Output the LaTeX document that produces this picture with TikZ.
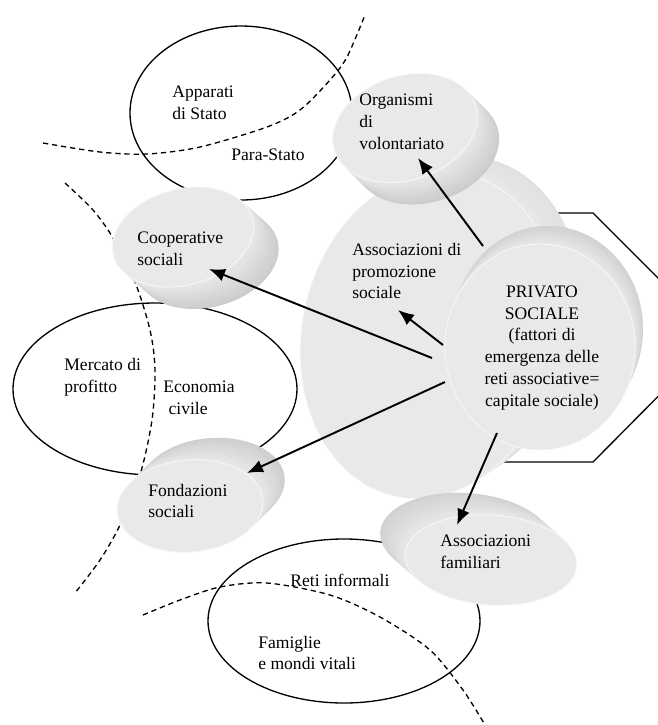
\documentclass[tikz,border=0pt]{standalone}
\usepackage{fontspec}
\setmainfont{Liberation Serif}
\usetikzlibrary{arrows.meta}
\tikzstyle{lbl}=[inner sep=0pt, align=left, anchor=west,
  font=\fontsize{10}{12.5}\selectfont]
\tikzstyle{zone}=[draw=black, line width=0.75pt]
\tikzstyle{divide}=[draw=black, line width=0.75pt, dash pattern=on 3pt off 2.2pt]
\tikzstyle{arrowline}=[draw=black, line width=1.1pt,
  -{Latex[length=3.2mm,width=2.6mm]}]
\tikzstyle{discface}=[fill=gray!17, draw=gray!6, line width=0.5pt]
\newcommand{\solidisc}[8]{%
  \foreach \st in {0,...,14}{%
    \pgfmathtruncatemacro{\shd}{#8-(#8-18)*\st/14}%
    \fill[gray!\shd] ({#1+#6*(1-\st/14)},{#2+#7*(1-\st/14)})
      ellipse [x radius=#3, y radius=#4, rotate=#5];
  }%
  \path[discface] (#1,#2) ellipse [x radius=#3, y radius=#4, rotate=#5];
}
\begin{document}
\begin{tikzpicture}[x=0.02cm, y=-0.02cm]
    \useasboundingbox (0,0) rectangle (658,725);
    \clip (0,0) rectangle (658,725);
    \draw[zone] (593,213) -- (717,337) -- (593,462) -- (473,462)
      -- (349,337) -- (473,213) -- cycle;
    \draw[divide] plot[smooth] coordinates {(43,143) (100,152) (147,154)
      (200,147) (267,127) (300,110) (330,80) (347,57) (365,15)};
    \draw[divide] plot[smooth] coordinates {(65,183) (93,210) (113,238)
      (135,282) (150,330) (155,370) (152,420) (140,475) (120,525) (100,560) (75,593)};
    \draw[divide] plot[smooth] coordinates {(143,615) (180,600) (220,587)
      (267,583) (330,595) (380,617) (430,650) (463,690) (485,725)};
    \draw[zone] (241,113) ellipse [x radius=111, y radius=87];
    \draw[zone] (155,389) ellipse [x radius=142, y radius=86];
    \draw[zone] (344,621) ellipse [x radius=136, y radius=82];
    \solidisc{430}{335}{128}{165}{-12}{22}{-15}{24}
    \solidisc{540}{347}{95}{103}{0}{8}{-18}{36}
    \solidisc{405}{128}{74}{52}{18}{22}{22}{40}
    \solidisc{183}{237}{72}{48}{15}{25}{22}{40}
    \solidisc{190}{506}{73}{46}{5}{22}{-22}{38}
    \solidisc{491}{560}{86}{45}{-4}{-25}{-22}{36}
    \node[lbl] (app) at (172,103) {Apparati\\di Stato};
    \node[lbl] (para) at (231,155) {Para-Stato};
    \node[lbl] (org) at (359,122) {Organismi\\di\\volontariato};
    \node[lbl] (coop) at (137,249) {Cooperative\\sociali};
    \node[lbl] (promo) at (352,271) {Associazioni di\\promozione\\sociale};
    \node[lbl, anchor=center, align=center] (priv) at (542,348)
      {PRIVATO\\SOCIALE\\(fattori di\\emergenza delle\\reti associative=\\capitale sociale)};
    \node[lbl] (merc) at (64,377) {Mercato di\\profitto};
    \node[lbl] (econ) at (163,398) {Economia\\\hspace*{3pt}civile};
    \node[lbl] (fond) at (148,501) {Fondazioni\\sociali};
    \node[lbl] (fam) at (440,552) {Associazioni\\familiari};
    \node[lbl] (reti) at (290,580) {Reti informali};
    \node[lbl] (famg) at (258,653) {Famiglie\\e mondi vitali};
    \coordinate (fromOrg) at (483,246);
    \coordinate (toOrg) at (418,158);
    \coordinate (fromPromo) at (443,345);
    \coordinate (toPromo) at (398,310);
    \coordinate (fromCoop) at (432,358);
    \coordinate (toCoop) at (209,269);
    \coordinate (fromFond) at (445,382);
    \coordinate (toFond) at (247,473);
    \coordinate (fromFam) at (497,433);
    \coordinate (toFam) at (457,525);
    \draw[arrowline] (fromOrg) -- (toOrg);
    \draw[arrowline] (fromPromo) -- (toPromo);
    \draw[arrowline] (fromCoop) -- (toCoop);
    \draw[arrowline] (fromFond) -- (toFond);
    \draw[arrowline] (fromFam) -- (toFam);
\end{tikzpicture}
\end{document}
